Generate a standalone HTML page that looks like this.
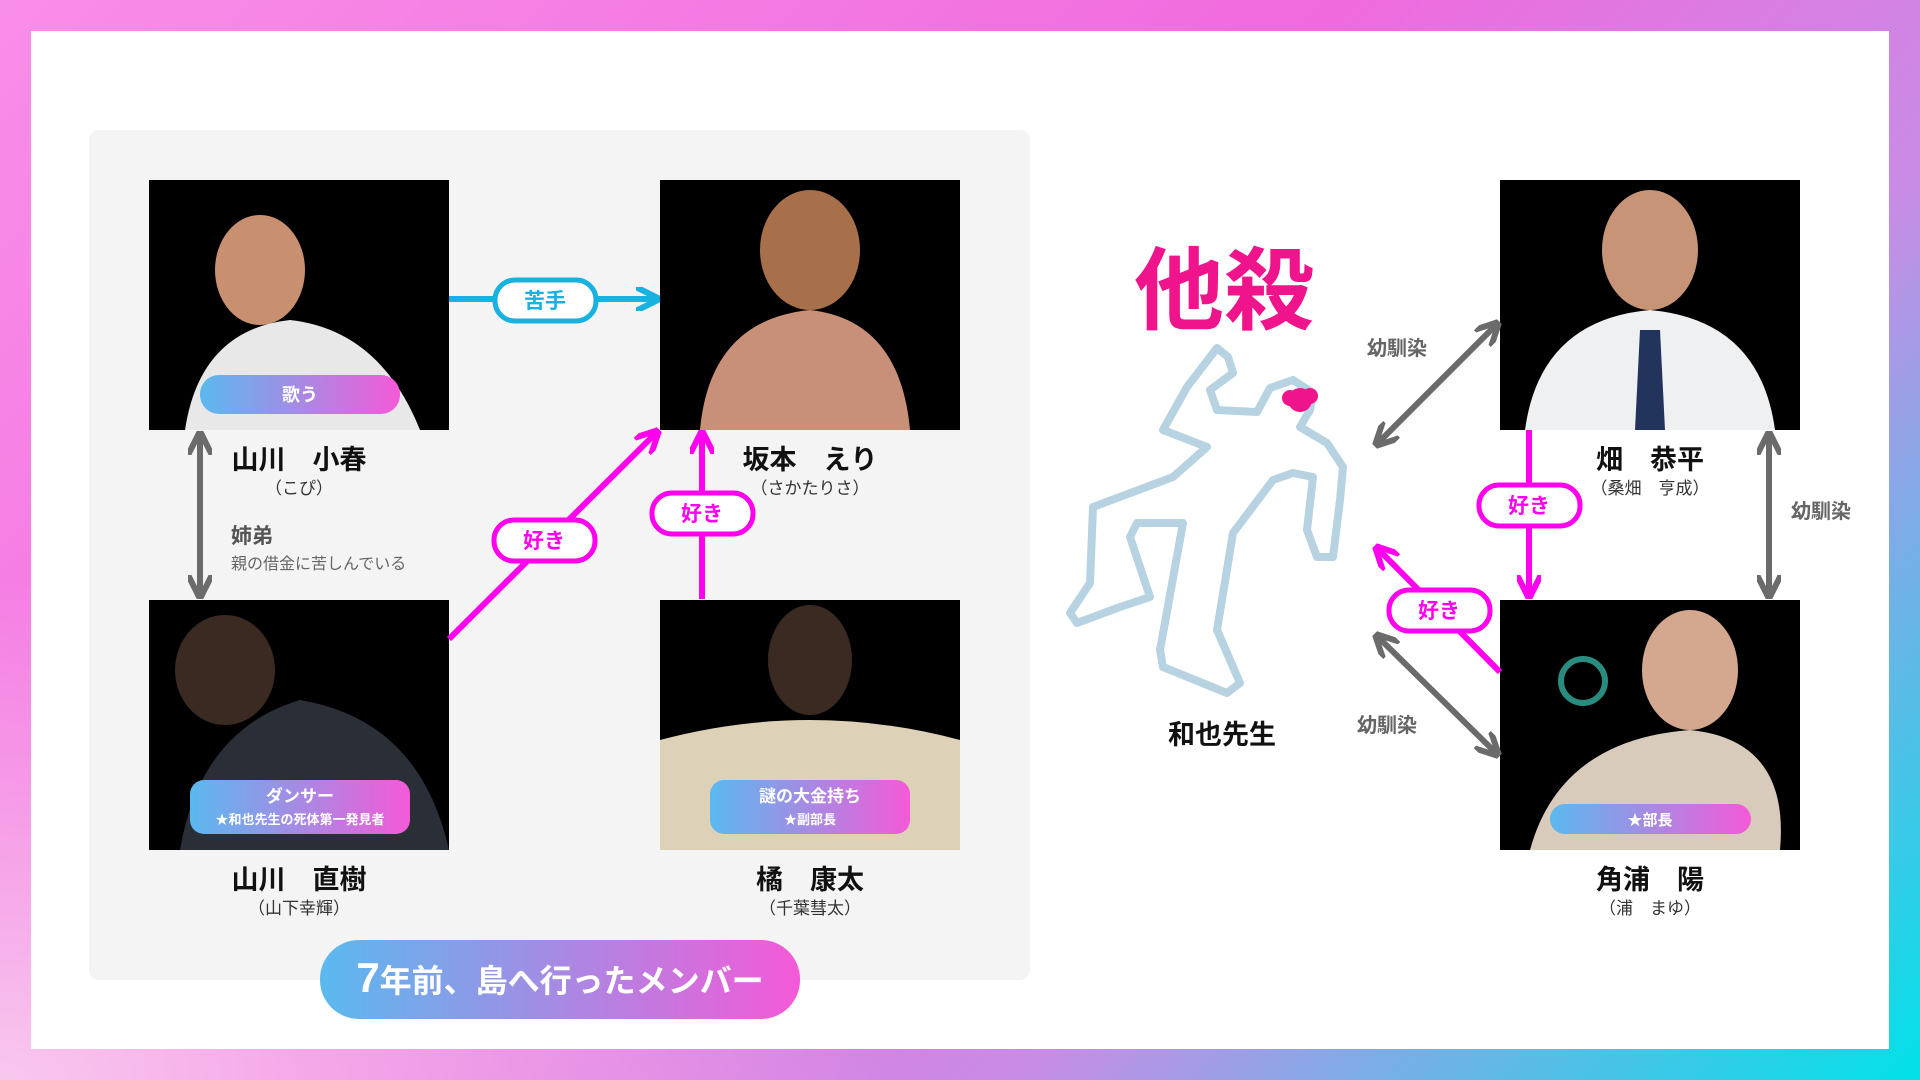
<!DOCTYPE html>
<html><head><meta charset="utf-8"><style>
html,body{margin:0;padding:0;width:1920px;height:1080px;overflow:hidden;}
body{background:radial-gradient(ellipse 900px 500px at 0% 100%, rgba(248,200,238,1) 0%, rgba(248,200,238,0) 100%),linear-gradient(135deg,#f98ee8 0%,#f06ade 45%,#c88ce6 70%,#00e2e8 100%);position:relative;font-family:"Liberation Sans","Noto Sans CJK JP",sans-serif;}
.panel{position:absolute;left:31px;top:31px;width:1858px;height:1018px;background:#fff;}
svg{position:absolute;left:0;top:0;}
</style></head><body>
<div class="panel"></div>
<svg width="1920" height="1080" viewBox="0 0 1920 1080" font-family="Liberation Sans, Noto Sans CJK JP, sans-serif">
<defs>
<linearGradient id="g" x1="0" x2="1" y1="0" y2="0"><stop offset="0" stop-color="#5ab9ee"/><stop offset="1" stop-color="#f45ad8"/></linearGradient>
<marker id="am" viewBox="0 0 10 10" refX="8" refY="5" markerWidth="4" markerHeight="4" orient="auto-start-reverse"><path d="M0,0 L10,5 L0,10" fill="none" stroke="context-stroke" stroke-width="2.5"/></marker>
</defs>
<rect x="89" y="130" width="941" height="850" rx="10" fill="#f4f4f4"/>
<g>
<rect x="149" y="180" width="300" height="250" fill="#000"/>
<ellipse cx="260" cy="270" rx="45" ry="55" fill="#c89070"/><path d="M185 430 Q200 330 290 320 Q380 330 420 430Z" fill="#e8e8e8"/>
<rect x="660" y="180" width="300" height="250" fill="#000"/>
<ellipse cx="810" cy="250" rx="50" ry="60" fill="#a8704a"/><path d="M700 430 Q710 320 810 310 Q900 320 910 430Z" fill="#c89078"/>
<rect x="149" y="600" width="300" height="250" fill="#000"/>
<ellipse cx="225" cy="670" rx="50" ry="55" fill="#3a2a22"/><path d="M180 850 Q200 730 300 700 Q420 720 449 850Z" fill="#2a2e36"/>
<rect x="660" y="600" width="300" height="250" fill="#000"/>
<ellipse cx="810" cy="660" rx="42" ry="55" fill="#3a2a22"/><path d="M660 850 L660 740 Q810 700 960 740 L960 850Z" fill="#ddd2b8"/>
<rect x="1500" y="180" width="300" height="250" fill="#000"/>
<ellipse cx="1650" cy="250" rx="48" ry="60" fill="#c89478"/><path d="M1525 430 Q1540 320 1650 310 Q1760 320 1775 430Z" fill="#eef0f2"/><path d="M1640 330 L1660 330 L1665 430 L1635 430Z" fill="#23345c"/>
<rect x="1500" y="600" width="300" height="250" fill="#000"/>
<ellipse cx="1690" cy="670" rx="48" ry="60" fill="#d4a88e"/><path d="M1530 850 Q1560 740 1690 730 Q1790 740 1780 850Z" fill="#d8cbbc"/>
<circle cx="1583" cy="681" r="22" fill="none" stroke="#2a8c7e" stroke-width="6"/>
</g>
<rect x="200" y="375" width="200" height="39" rx="19" fill="url(#g)"/>
<text x="300" y="401" fill="#fff" font-size="18" font-weight="bold" text-anchor="middle">歌う</text>
<rect x="190" y="780" width="220" height="54" rx="14" fill="url(#g)"/>
<text x="300" y="802" fill="#fff" font-size="17" font-weight="bold" text-anchor="middle">ダンサー</text>
<text x="300" y="824" fill="#fff" font-size="13" font-weight="bold" text-anchor="middle">★和也先生の死体第一発見者</text>
<rect x="710" y="780" width="200" height="54" rx="14" fill="url(#g)"/>
<text x="810" y="802" fill="#fff" font-size="17" font-weight="bold" text-anchor="middle">謎の大金持ち</text>
<text x="810" y="824" fill="#fff" font-size="13" font-weight="bold" text-anchor="middle">★副部長</text>
<rect x="1550" y="804" width="201" height="30" rx="15" fill="url(#g)"/>
<text x="1650" y="825" fill="#fff" font-size="15" font-weight="bold" text-anchor="middle">★部長</text>
<g font-weight="bold" font-size="27" fill="#111" text-anchor="middle">
<text x="299" y="469">山川　小春</text><text x="810" y="469">坂本　えり</text>
<text x="299" y="889">山川　直樹</text><text x="810" y="889">橘　康太</text>
<text x="1650" y="469">畑　恭平</text><text x="1650" y="889">角浦　陽</text>
<text x="1222" y="744">和也先生</text>
</g>
<g font-size="17" fill="#333" text-anchor="middle">
<text x="299" y="494">（こぴ）</text><text x="810" y="494">（さかたりさ）</text>
<text x="299" y="914">（山下幸輝）</text><text x="810" y="914">（千葉彗太）</text>
<text x="1650" y="494">（桑畑　亨成）</text><text x="1650" y="914">（浦　まゆ）</text>
</g>
<line x1="449" y1="299" x2="655" y2="299" stroke="#17b2e0" stroke-width="6" marker-end="url(#am)"/>
<rect x="495" y="280" width="101" height="41" rx="20" fill="#fff" stroke="#17b2e0" stroke-width="5"/>
<text x="545" y="308" fill="#17b2e0" font-size="21" font-weight="bold" text-anchor="middle">苦手</text>
<line x1="200" y1="436" x2="200" y2="594" stroke="#6b6b6b" stroke-width="6" marker-start="url(#am)" marker-end="url(#am)"/>
<text x="231" y="543" fill="#555" font-size="21" font-weight="bold">姉弟</text>
<text x="231" y="569" fill="#666" font-size="16">親の借金に苦しんでいる</text>
<g stroke="#ff00ee" stroke-width="6">
<line x1="449" y1="639" x2="656" y2="433" marker-end="url(#am)"/>
<line x1="702" y1="599" x2="702" y2="435" marker-end="url(#am)"/>
<line x1="1529" y1="430" x2="1529" y2="594" marker-end="url(#am)"/>
<line x1="1500" y1="672" x2="1378" y2="549" marker-end="url(#am)"/>
</g>
<g stroke="#6b6b6b" stroke-width="6">
<line x1="1378" y1="443" x2="1496" y2="325" marker-start="url(#am)" marker-end="url(#am)"/>
<line x1="1769" y1="436" x2="1769" y2="594" marker-start="url(#am)" marker-end="url(#am)"/>
<line x1="1378" y1="637" x2="1496" y2="753" marker-start="url(#am)" marker-end="url(#am)"/>
</g>
<g fill="#fff" stroke="#ff00ee" stroke-width="5">
<rect x="494" y="520" width="101" height="41" rx="20"/>
<rect x="652" y="493" width="101" height="41" rx="20"/>
<rect x="1479" y="485" width="101" height="41" rx="20"/>
<rect x="1389" y="590" width="101" height="41" rx="20"/>
</g>
<g fill="#ff00ee" font-size="21" font-weight="bold" text-anchor="middle">
<text x="544" y="548">好き</text><text x="702" y="521">好き</text>
<text x="1529" y="513">好き</text><text x="1439" y="618">好き</text>
</g>
<g fill="#666" font-size="20" font-weight="bold" text-anchor="middle">
<text x="1397" y="355">幼馴染</text><text x="1821" y="518">幼馴染</text><text x="1387" y="732">幼馴染</text>
</g>
<text x="1224" y="322" fill="#f0148c" font-size="90" font-weight="bold" text-anchor="middle">他殺</text>
<polygon fill="none" stroke="#b7d3e2" stroke-width="8" stroke-linejoin="round" stroke-linecap="round" points="1217,348 1228,357 1233,373 1210,390 1217,410 1257,412 1270,388 1293,380 1313,393 1310,410 1300,427 1327,443 1343,467 1340,500 1333,557 1317,557 1307,530 1313,477 1293,473 1273,480 1233,533 1217,630 1240,683 1227,693 1163,667 1160,650 1183,523 1137,523 1130,537 1150,597 1120,607 1077,623 1070,613 1090,583 1093,507 1173,477 1207,447 1163,430 1187,387"/>
<circle cx="1300" cy="400" r="12" fill="#f0148c"/><circle cx="1290" cy="398" r="8" fill="#f0148c"/><circle cx="1310" cy="396" r="8" fill="#f0148c"/>
<rect x="320" y="940" width="480" height="79" rx="39" fill="url(#g)"/>
<text x="560" y="992" fill="#fff" font-size="32" font-weight="bold" text-anchor="middle"><tspan font-size="42">7</tspan>年前、島へ行ったメンバー</text>
</svg>
</body></html>
